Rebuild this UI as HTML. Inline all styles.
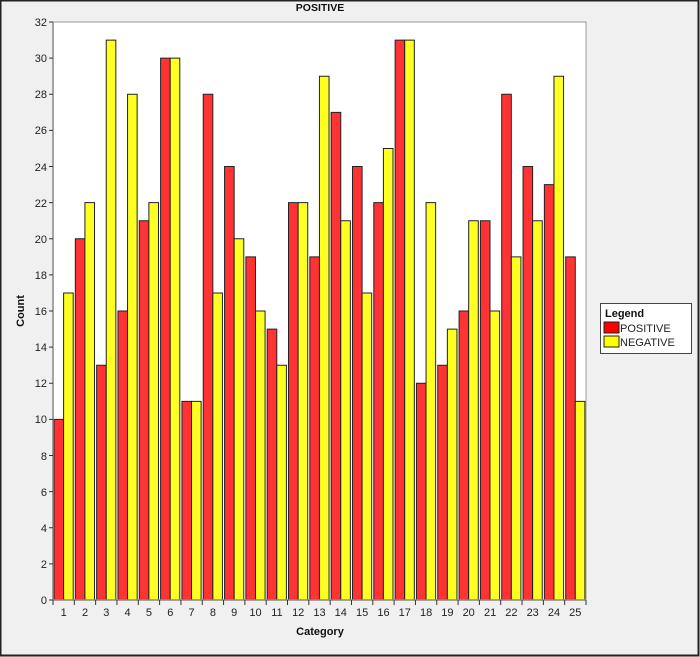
<!DOCTYPE html>
<html><head><meta charset="utf-8"><style>
html,body{margin:0;padding:0;background:#f0f0f0}
svg{display:block}
text{font-family:"Liberation Sans",Arial,sans-serif}
</style></head><body>
<svg width="700" height="657" viewBox="0 0 700 657">
<rect x="0.5" y="0.5" width="698" height="655" fill="#f0f0f0" stroke="#222" stroke-width="2"/>
<text x="320" y="11" font-size="10.5" font-weight="bold" text-anchor="middle" fill="#111">POSITIVE</text>
<rect x="53" y="22" width="533" height="578" fill="#fff" stroke="#999" stroke-width="1"/>
<g transform="translate(0,600) scale(1,-18.0625)" stroke="#222" stroke-width="1">
<g fill="#ff3333">
<rect vector-effect="non-scaling-stroke" x="54" y="0" width="9.6" height="10"/>
<rect vector-effect="non-scaling-stroke" x="75.32" y="0" width="9.6" height="20"/>
<rect vector-effect="non-scaling-stroke" x="96.64" y="0" width="9.6" height="13"/>
<rect vector-effect="non-scaling-stroke" x="117.96" y="0" width="9.6" height="16"/>
<rect vector-effect="non-scaling-stroke" x="139.28" y="0" width="9.6" height="21"/>
<rect vector-effect="non-scaling-stroke" x="160.6" y="0" width="9.6" height="30"/>
<rect vector-effect="non-scaling-stroke" x="181.92" y="0" width="9.6" height="11"/>
<rect vector-effect="non-scaling-stroke" x="203.24" y="0" width="9.6" height="28"/>
<rect vector-effect="non-scaling-stroke" x="224.56" y="0" width="9.6" height="24"/>
<rect vector-effect="non-scaling-stroke" x="245.88" y="0" width="9.6" height="19"/>
<rect vector-effect="non-scaling-stroke" x="267.2" y="0" width="9.6" height="15"/>
<rect vector-effect="non-scaling-stroke" x="288.52" y="0" width="9.6" height="22"/>
<rect vector-effect="non-scaling-stroke" x="309.84" y="0" width="9.6" height="19"/>
<rect vector-effect="non-scaling-stroke" x="331.16" y="0" width="9.6" height="27"/>
<rect vector-effect="non-scaling-stroke" x="352.48" y="0" width="9.6" height="24"/>
<rect vector-effect="non-scaling-stroke" x="373.8" y="0" width="9.6" height="22"/>
<rect vector-effect="non-scaling-stroke" x="395.12" y="0" width="9.6" height="31"/>
<rect vector-effect="non-scaling-stroke" x="416.44" y="0" width="9.6" height="12"/>
<rect vector-effect="non-scaling-stroke" x="437.76" y="0" width="9.6" height="13"/>
<rect vector-effect="non-scaling-stroke" x="459.08" y="0" width="9.6" height="16"/>
<rect vector-effect="non-scaling-stroke" x="480.4" y="0" width="9.6" height="21"/>
<rect vector-effect="non-scaling-stroke" x="501.72" y="0" width="9.6" height="28"/>
<rect vector-effect="non-scaling-stroke" x="523.04" y="0" width="9.6" height="24"/>
<rect vector-effect="non-scaling-stroke" x="544.36" y="0" width="9.6" height="23"/>
<rect vector-effect="non-scaling-stroke" x="565.68" y="0" width="9.6" height="19"/>
</g>
<g fill="#ffff22">
<rect vector-effect="non-scaling-stroke" x="63.6" y="0" width="9.6" height="17"/>
<rect vector-effect="non-scaling-stroke" x="84.92" y="0" width="9.6" height="22"/>
<rect vector-effect="non-scaling-stroke" x="106.24" y="0" width="9.6" height="31"/>
<rect vector-effect="non-scaling-stroke" x="127.56" y="0" width="9.6" height="28"/>
<rect vector-effect="non-scaling-stroke" x="148.88" y="0" width="9.6" height="22"/>
<rect vector-effect="non-scaling-stroke" x="170.2" y="0" width="9.6" height="30"/>
<rect vector-effect="non-scaling-stroke" x="191.52" y="0" width="9.6" height="11"/>
<rect vector-effect="non-scaling-stroke" x="212.84" y="0" width="9.6" height="17"/>
<rect vector-effect="non-scaling-stroke" x="234.16" y="0" width="9.6" height="20"/>
<rect vector-effect="non-scaling-stroke" x="255.48" y="0" width="9.6" height="16"/>
<rect vector-effect="non-scaling-stroke" x="276.8" y="0" width="9.6" height="13"/>
<rect vector-effect="non-scaling-stroke" x="298.12" y="0" width="9.6" height="22"/>
<rect vector-effect="non-scaling-stroke" x="319.44" y="0" width="9.6" height="29"/>
<rect vector-effect="non-scaling-stroke" x="340.76" y="0" width="9.6" height="21"/>
<rect vector-effect="non-scaling-stroke" x="362.08" y="0" width="9.6" height="17"/>
<rect vector-effect="non-scaling-stroke" x="383.4" y="0" width="9.6" height="25"/>
<rect vector-effect="non-scaling-stroke" x="404.72" y="0" width="9.6" height="31"/>
<rect vector-effect="non-scaling-stroke" x="426.04" y="0" width="9.6" height="22"/>
<rect vector-effect="non-scaling-stroke" x="447.36" y="0" width="9.6" height="15"/>
<rect vector-effect="non-scaling-stroke" x="468.68" y="0" width="9.6" height="21"/>
<rect vector-effect="non-scaling-stroke" x="490" y="0" width="9.6" height="16"/>
<rect vector-effect="non-scaling-stroke" x="511.32" y="0" width="9.6" height="19"/>
<rect vector-effect="non-scaling-stroke" x="532.64" y="0" width="9.6" height="21"/>
<rect vector-effect="non-scaling-stroke" x="553.96" y="0" width="9.6" height="29"/>
<rect vector-effect="non-scaling-stroke" x="575.28" y="0" width="9.6" height="11"/>
</g>
</g>
<line x1="53" y1="22" x2="53" y2="600" stroke="#888" stroke-width="1.5"/>
<line x1="53" y1="600" x2="586" y2="600" stroke="#888" stroke-width="1.5"/>
<g stroke="#333" stroke-width="1">
<path d="M49 600H53M49 563.9H53M49 527.75H53M49 491.6H53M49 455.5H53M49 419.4H53M49 383.25H53M49 347.1H53M49 311H53M49 274.9H53M49 238.75H53M49 202.6H53M49 166.5H53M49 130.4H53M49 94.25H53M49 58.1H53M49 22H53"/>
<path d="M53 600V605M74.32 600V605M95.64 600V605M116.96 600V605M138.28 600V605M159.6 600V605M180.92 600V605M202.24 600V605M223.56 600V605M244.88 600V605M266.2 600V605M287.52 600V605M308.84 600V605M330.16 600V605M351.48 600V605M372.8 600V605M394.12 600V605M415.44 600V605M436.76 600V605M458.08 600V605M479.4 600V605M500.72 600V605M522.04 600V605M543.36 600V605M564.68 600V605M586 600V605"/>
</g>
<g font-size="11" fill="#222" text-anchor="end">
<text x="47" y="604">0</text><text x="47" y="568">2</text><text x="47" y="532">4</text><text x="47" y="496">6</text><text x="47" y="460">8</text><text x="47" y="423">10</text><text x="47" y="387">12</text><text x="47" y="351">14</text><text x="47" y="315">16</text><text x="47" y="279">18</text><text x="47" y="243">20</text><text x="47" y="207">22</text><text x="47" y="171">24</text><text x="47" y="134">26</text><text x="47" y="98">28</text><text x="47" y="62">30</text><text x="47" y="26">32</text>
</g>
<g font-size="11" fill="#222" text-anchor="middle">
<text x="63.7" y="616">1</text><text x="85" y="616">2</text><text x="106.3" y="616">3</text><text x="127.6" y="616">4</text><text x="148.9" y="616">5</text><text x="170.3" y="616">6</text><text x="191.6" y="616">7</text><text x="212.9" y="616">8</text><text x="234.2" y="616">9</text><text x="255.5" y="616">10</text><text x="276.9" y="616">11</text><text x="298.2" y="616">12</text><text x="319.5" y="616">13</text><text x="340.8" y="616">14</text><text x="362.1" y="616">15</text><text x="383.5" y="616">16</text><text x="404.8" y="616">17</text><text x="426.1" y="616">18</text><text x="447.4" y="616">19</text><text x="468.7" y="616">20</text><text x="490.1" y="616">21</text><text x="511.4" y="616">22</text><text x="532.7" y="616">23</text><text x="554" y="616">24</text><text x="575.3" y="616">25</text>
</g>
<text x="320" y="635" font-size="11" font-weight="bold" text-anchor="middle" fill="#111">Category</text>
<text x="0" y="0" font-size="11" font-weight="bold" text-anchor="middle" fill="#111" transform="translate(24,311) rotate(-90)">Count</text>
<rect x="600.5" y="303.5" width="91" height="50" fill="#fff" stroke="#444" stroke-width="1"/>
<text x="605" y="317" font-size="11" font-weight="bold" fill="#111">Legend</text>
<rect x="604" y="322" width="15" height="11" fill="#ff0000" stroke="#222"/>
<text x="620" y="332" font-size="11" fill="#222">POSITIVE</text>
<rect x="604" y="336" width="15" height="11" fill="#ffff00" stroke="#222"/>
<text x="620" y="346" font-size="11" fill="#222">NEGATIVE</text>
</svg>
</body></html>
